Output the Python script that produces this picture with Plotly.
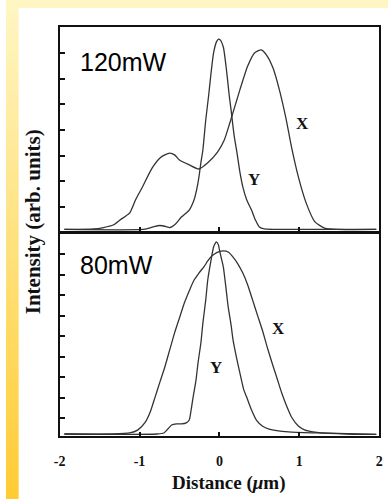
import plotly.graph_objects as go

# Beam profiles: intensity (arb. units) versus distance (um)
# 120 mW panel
x120_X = [-1.94, -1.573, -1.451, -1.329, -1.244, -1.122, -1.049, -0.963, -0.841, -0.744,
          -0.683, -0.622, -0.561, -0.5, -0.378, -0.256, -0.146, -0.024, 0.061, 0.134,
          0.256, 0.354, 0.439, 0.524, 0.598, 0.671, 0.744, 0.829, 0.902, 0.988,
          1.085, 1.195, 1.317, 1.476, 1.963]
i120_X = [0.125, 0.144, 0.20, 0.30, 0.495, 0.77, 1.28, 1.78, 2.52, 2.91,
          3.03, 3.10, 3.03, 2.83, 2.64, 2.48, 2.72, 3.14, 3.61, 4.31,
          5.56, 6.49, 7.0, 7.12, 6.88, 6.41, 5.64, 4.51, 3.34, 2.17,
          1.16, 0.42, 0.18, 0.125, 0.125]

x120_Y = [-1.94, -0.963, -0.878, -0.817, -0.744, -0.671, -0.622, -0.549, -0.476, -0.378,
          -0.317, -0.280, -0.256, -0.232, -0.207, -0.171, -0.134, -0.110, -0.073, -0.037,
          -0.012, 0.012, 0.049, 0.073, 0.098, 0.122, 0.146, 0.183, 0.220, 0.256,
          0.293, 0.341, 0.402, 0.451, 0.5, 0.561, 0.988, 1.963]
i120_Y = [0.125, 0.125, 0.18, 0.24, 0.28, 0.24, 0.20, 0.34, 0.61, 0.88,
          1.28, 1.74, 2.17, 2.72, 3.22, 4.39, 5.36, 6.07, 7.0, 7.43,
          7.54, 7.50, 7.23, 6.73, 6.07, 5.36, 4.78, 3.81, 3.11, 2.37,
          1.78, 1.28, 0.88, 0.49, 0.22, 0.144, 0.125, 0.125]

# 80 mW panel
x80_X = [-1.94, -1.329, -1.122, -1.024, -0.927, -0.866, -0.805, -0.744, -0.683, -0.622,
         -0.561, -0.5, -0.439, -0.378, -0.317, -0.256, -0.195, -0.146, -0.110, -0.061,
         -0.012, 0.049, 0.110, 0.171, 0.232, 0.293, 0.354, 0.415, 0.476, 0.537,
         0.598, 0.659, 0.720, 0.780, 0.841, 0.902, 0.988, 1.073, 1.171, 1.268,
         1.598, 1.963]
i80_X = [0.22, 0.22, 0.27, 0.41, 0.80, 1.29, 2.02, 2.76, 3.49, 4.32,
         5.15, 5.88, 6.61, 7.20, 7.73, 8.07, 8.37, 8.66, 8.85, 9.00,
         9.10, 9.15, 9.10, 8.85, 8.51, 8.07, 7.49, 6.76, 6.02, 5.29,
         4.46, 3.68, 2.95, 2.22, 1.59, 1.05, 0.61, 0.41, 0.32, 0.27,
         0.22, 0.20]

x80_Y = [-1.94, -0.780, -0.695, -0.646, -0.598, -0.537, -0.476, -0.415, -0.378, -0.354,
         -0.329, -0.293, -0.268, -0.232, -0.207, -0.171, -0.146, -0.122, -0.098, -0.073,
         -0.049, -0.037, -0.012, 0.0, 0.024, 0.049, 0.085, 0.110, 0.146, 0.171,
         0.220, 0.256, 0.305, 0.341, 0.402, 0.463, 0.537, 0.622, 0.866, 1.232,
         1.963]
i80_Y = [0.22, 0.22, 0.27, 0.46, 0.66, 0.71, 0.71, 0.76, 0.90, 1.39,
         2.02, 2.85, 3.68, 4.66, 5.63, 6.76, 7.73, 8.32, 8.85, 9.34,
         9.54, 9.59, 9.44, 9.20, 8.80, 8.37, 7.24, 6.41, 5.54, 4.80,
         3.83, 3.20, 2.37, 2.02, 1.39, 0.90, 0.61, 0.46, 0.32, 0.27,
         0.20]

x_ticks = [-2, -1, 0, 1, 2]
x_tick_labels = ["-2", "-1", "0", "1", "2"]
y_ticks_top = [1, 2, 3, 4, 5, 6, 7]
y_ticks_bottom = [1, 2, 3, 4, 5, 6, 7, 8, 9]

W, H = 392, 499
LINE = "#333333"
SERIF = "Liberation Serif, Times New Roman, serif"
SANS = "Liberation Sans, Arial, sans-serif"


def px(x):
    return x / W


def py(y):
    return 1 - y / H


fig = go.Figure()
for xs, ys, ax in [(x120_X, i120_X, ("x", "y")), (x120_Y, i120_Y, ("x", "y")),
                   (x80_X, i80_X, ("x2", "y2")), (x80_Y, i80_Y, ("x2", "y2"))]:
    fig.add_trace(go.Scatter(x=xs, y=ys, mode="lines", xaxis=ax[0], yaxis=ax[1],
                             line=dict(color=LINE, width=1.3, shape="spline", smoothing=0.6),
                             showlegend=False, hoverinfo="skip"))

# background: yellow gradient with a white sheet on top
shapes = []
n = 50
top_c = (255, 246, 196)
bot_c = (255, 204, 52)
for k in range(n):
    t = k / (n - 1)
    c = tuple(round(top_c[j] + (bot_c[j] - top_c[j]) * t) for j in range(3))
    shapes.append(dict(type="rect", xref="paper", yref="paper", layer="below",
                       x0=0, x1=1, y0=1 - (k + 1) / n - 0.002, y1=1 - k / n,
                       line=dict(width=0), fillcolor="rgb(%d,%d,%d)" % c))
shapes.append(dict(type="rect", xref="paper", yref="paper", layer="below",
                   x0=px(13), x1=1, y0=0, y1=py(8), line=dict(width=0),
                   fillcolor="white"))

axis_common = dict(showgrid=False, zeroline=False, showline=True, mirror=True,
                   linecolor="#111", linewidth=2, ticks="inside",
                   tickcolor="#111", tickwidth=1.5)

fig.update_layout(
    width=W, height=H,
    margin=dict(l=0, r=0, t=0, b=0, pad=0),
    paper_bgcolor="white", plot_bgcolor="rgba(0,0,0,0)",
    shapes=shapes,
    xaxis=dict(axis_common, domain=[px(55), px(383)], range=[-2, 2], anchor="y",
               tickvals=x_ticks, ticklen=4, showticklabels=False),
    yaxis=dict(axis_common, domain=[py(231), py(27)], range=[0.065, 8.01], anchor="x",
               tickvals=y_ticks_top, ticklen=5, showticklabels=False),
    xaxis2=dict(axis_common, domain=[px(55), px(383)], range=[-2, 2], anchor="y2",
                tickvals=x_ticks, ticktext=x_tick_labels, ticklen=4,
                tickfont=dict(family=SERIF, size=14, color="#111", weight="bold"),
                ticklabelstandoff=11),
    yaxis2=dict(axis_common, domain=[py(436), py(233.5)], range=[0.122, 10.0], anchor="x2",
                tickvals=y_ticks_bottom, ticklen=5, showticklabels=False),
)

ann = [
    dict(text="120mW", x=px(121), y=py(62), font=dict(family=SANS, size=25, color="black")),
    dict(text="80mW", x=px(113), y=py(265), font=dict(family=SANS, size=25, color="black")),
    dict(text="<b>X</b>", x=px(304), y=py(123), font=dict(family=SERIF, size=17, color="#111")),
    dict(text="<b>Y</b>", x=px(255), y=py(179), font=dict(family=SERIF, size=17, color="#111")),
    dict(text="<b>X</b>", x=px(280), y=py(328), font=dict(family=SERIF, size=17, color="#111")),
    dict(text="<b>Y</b>", x=px(216), y=py(367), font=dict(family=SERIF, size=17, color="#111")),
    dict(text="<b>Distance (<i>μ</i>m)</b>", x=px(228), y=py(483),
         font=dict(family=SERIF, size=19, color="#111")),
    dict(text="<b>Intensity (arb. units)</b>", x=px(28), y=py(222), textangle=-90,
         font=dict(family=SERIF, size=21, color="#111")),
]
for a in ann:
    a.update(xref="paper", yref="paper", showarrow=False, xanchor="center", yanchor="middle")
fig.update_layout(annotations=ann)

fig.write_html("out.html")
